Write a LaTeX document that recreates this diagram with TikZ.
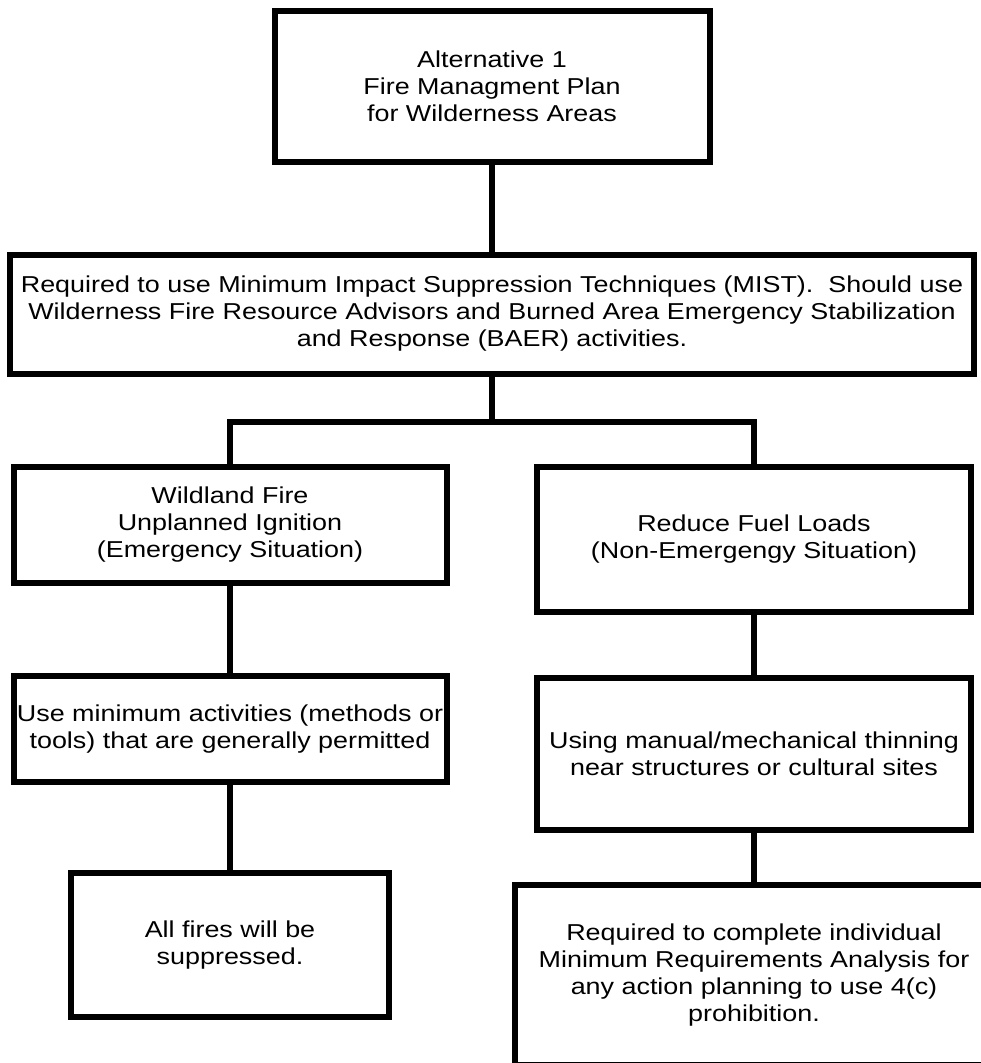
\documentclass[tikz,border=0pt]{standalone}
\usepackage{fontspec}
\setmainfont{Liberation Sans}[FakeStretch=1.17]
\begin{document}
\begin{tikzpicture}[x=1pt,y=-1pt,
  box/.style={draw=black, line width=6pt, fill=white, inner sep=0pt, align=center,
    font=\fontsize{23}{27}\selectfont},
  link/.style={draw=black, line width=6pt}]
\useasboundingbox (0,0) rectangle (981,1063);
\clip (0,0) rectangle (981,1063);
\node[box, minimum width=435pt, minimum height=151pt] (b1) at (492,86.5)
  {Alternative 1\\Fire Managment Plan\\for Wilderness Areas};
\node[box, minimum width=964pt, minimum height=119pt] (b2) at (492,314)
  {Required to use Minimum Impact Suppression Techniques (MIST).\ \ Should use\\Wilderness Fire Resource Advisors and Burned Area Emergency Stabilization\\and Response (BAER) activities.};
\node[box, minimum width=433pt, minimum height=116pt] (b3) at (230,525)
  {Wildland Fire\\Unplanned Ignition\\(Emergency Situation)};
\node[box, minimum width=434pt, minimum height=145pt] (b4) at (754,539.5)
  {Reduce Fuel Loads\\(Non-Emergengy Situation)};
\node[box, minimum width=433pt, minimum height=106pt] (b5) at (230,729)
  {Use minimum activities (methods or\\tools) that are generally permitted};
\node[box, minimum width=434pt, minimum height=152pt] (b6) at (754,754)
  {Using manual/mechanical thinning\\near structures or cultural sites};
\node[box, minimum width=318pt, minimum height=144pt] (b7) at (230,945)
  {All fires will be\\suppressed.};
\node[box, minimum width=478pt, minimum height=180pt] (b8) at (754,975)
  {Required to complete individual\\Minimum Requirements Analysis for\\any action planning to use 4(c)\\prohibition.};
\coordinate (j) at (492,422);
\draw[link] (b1.south) -- (b2.north);
\draw[link] (b2.south) -- (j);
\draw[link] (b3.north) |- (j) -| (b4.north);
\draw[link] (b3.south) -- (b5.north);
\draw[link] (b5.south) -- (b7.north);
\draw[link] (b4.south) -- (b6.north);
\draw[link] (b6.south) -- (b8.north);
\end{tikzpicture}
\end{document}
